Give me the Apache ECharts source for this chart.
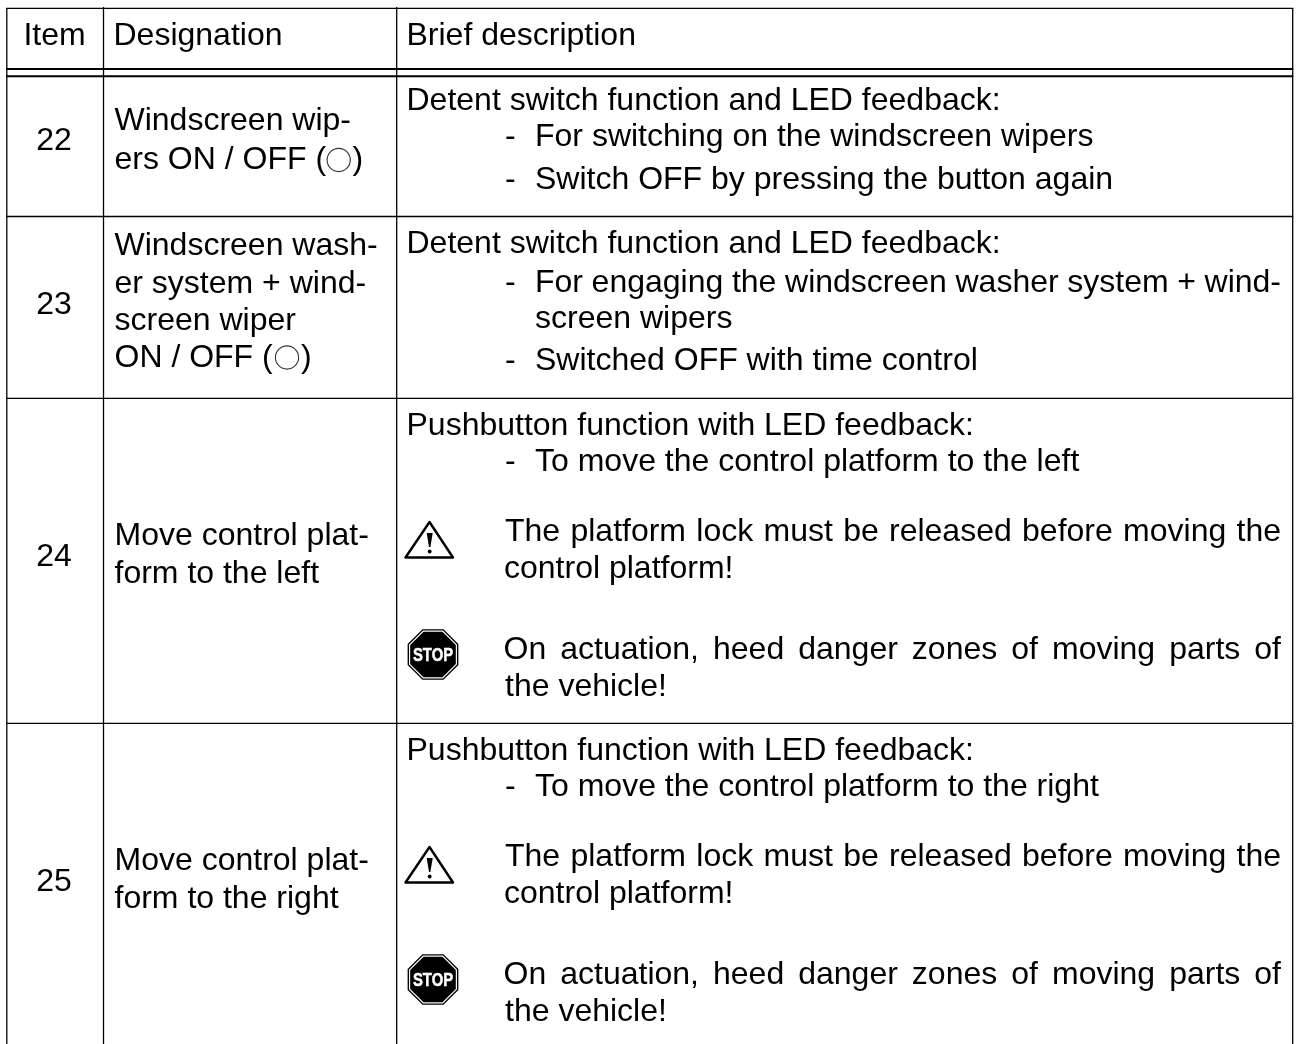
<!DOCTYPE html>
<html><head><meta charset="utf-8">
<style>html,body{margin:0;padding:0;background:#fff}#c{width:1296px;height:1044px}</style>
<script src="https://cdn.jsdelivr.net/npm/echarts@6/dist/echarts.min.js"></script>
</head><body><div id="c"></div>
<script>
const columnHeaders = ['Item', 'Designation', 'Brief description'];
const itemNumbers = ['22', '23', '24', '25'];
const designations = [
  ['Windscreen wip-', 'ers ON / OFF ('],
  ['Windscreen wash-', 'er system + wind-', 'screen wiper', 'ON / OFF ('],
  ['Move control plat-', 'form to the left'],
  ['Move control plat-', 'form to the right']
];
const descriptions22 = ['Detent switch function and LED feedback:', '- For switching on the windscreen wipers', '- Switch OFF by pressing the button again'];
const descriptions23 = ['Detent switch function and LED feedback:', '- For engaging the windscreen washer system + wind-', 'screen wipers', '- Switched OFF with time control'];
const descriptions24 = ['Pushbutton function with LED feedback:', '- To move the control platform to the left', 'The platform lock must be released before moving the', 'control platform!', 'On actuation, heed danger zones of moving parts of', 'the vehicle!'];
const descriptions25 = ['Pushbutton function with LED feedback:', '- To move the control platform to the right', 'The platform lock must be released before moving the', 'control platform!', 'On actuation, heed danger zones of moving parts of', 'the vehicle!'];

// layout only
const FONT = '"Liberation Sans", Arial, Helvetica, sans-serif';
const SIZE = 32;
const SHIFT = 24;
const vx = [6.8, 103.5, 396.7, 1292.7];
const els = [];
const mctx = document.createElement('canvas').getContext('2d');
mctx.font = SIZE + 'px ' + FONT;

function line(x1, y1, x2, y2, w) {
  els.push({type: 'line', silent: true, shape: {x1, y1, x2, y2}, style: {stroke: '#000', lineWidth: w || 1.3}});
}
function text(s, x, y, align) {
  els.push({type: 'text', silent: true, x, y: y - SHIFT, style: {text: s, x: 0, y: 0, font: SIZE + 'px ' + FONT, fill: '#000', textAlign: align || 'left'}});
}
function justified(s, x0, x1, y) {
  const words = s.split(' ');
  const total = words.reduce((a, w) => a + mctx.measureText(w).width, 0);
  const gap = (x1 - x0 - total) / (words.length - 1);
  let x = x0;
  words.forEach(w => { text(w, x, y); x += mctx.measureText(w).width + gap; });
}
function warn(dy) {
  els.push({type: 'polygon', silent: true, shape: {points: [[429.5, 522 + dy], [405.5, 557.5 + dy], [453, 557.5 + dy]]}, style: {stroke: '#000', fill: '#fff', lineWidth: 2.4, lineJoin: 'round'}});
  els.push({type: 'polygon', silent: true, shape: {points: [[426.7, 533 + dy], [432.7, 533 + dy], [430.4, 547 + dy], [429, 547 + dy]]}, style: {fill: '#000'}});
  els.push({type: 'circle', silent: true, shape: {cx: 429.7, cy: 551.5 + dy, r: 1.9}, style: {fill: '#000'}});
}
function octagon(cx, cy, r) {
  const pts = [];
  for (let i = 0; i < 8; i++) {
    const a = Math.PI / 8 + i * Math.PI / 4;
    pts.push([cx + r * Math.cos(a), cy + r * Math.sin(a)]);
  }
  return pts;
}
function stop(dy) {
  const cx = 433, cy = 654.5 + dy;
  els.push({type: 'polygon', silent: true, shape: {points: octagon(cx, cy, 26.7)}, style: {fill: '#fff', stroke: '#000', lineWidth: 1.4}});
  els.push({type: 'polygon', silent: true, shape: {points: octagon(cx, cy, 24.7)}, style: {fill: '#000'}});
  els.push({type: 'text', silent: true, x: cx, y: cy - 8.5, scaleX: 0.8, style: {text: 'STOP', x: 0, y: 0, font: 'bold 18.5px ' + FONT, fill: '#fff', stroke: '#fff', lineWidth: 0.5, textAlign: 'center'}});
}
function ring(cx, cy) {
  els.push({type: 'circle', silent: true, shape: {cx, cy, r: 11.6}, style: {fill: 'none', stroke: '#333', lineWidth: 1.1}});
}

// rules
const rowRules = [216.5, 398.4, 723.4];
[8.4, ...rowRules].forEach(y => line(vx[0] - 0.6, y, vx[3] + 0.6, y));
[69, 76.3].forEach(y => line(vx[0] - 0.6, y, vx[3] + 0.6, y, 2));
line(vx[0], 8, vx[0], 1044);
line(vx[1], 7, vx[1], 1044);
line(vx[2], 7, vx[2], 1044);
line(vx[3], 8, vx[3], 1044);

// header
text(columnHeaders[0], 54.5, 43.7, 'center');
text(columnHeaders[1], 113.5, 43.7);
text(columnHeaders[2], 406.5, 43.7);

// item numbers
const itemY = [148.7, 312.7, 565.4, 890.4];
itemNumbers.forEach((n, i) => text(n, 54, itemY[i], 'center'));

// designations
const desigY = [[128.7, 167.7], [253.7, 291.7, 328.7, 365.7], [543.7, 582], [868.7, 907]];
designations.forEach((lines, i) => lines.forEach((s, j) => text(s, 114.5, desigY[i][j])));
text(')', 352.5, 167.7); ring(338.7, 160);
text(')', 301, 365.7); ring(287, 357.5);

// descriptions
const dx0 = 406.5, dx1 = 535, dx2 = 505, right = 1281;
function bullet(s, y) { text('-', 505, y); text(s.slice(2), dx1, y); }

text(descriptions22[0], dx0, 109);
bullet(descriptions22[1], 145.5);
bullet(descriptions22[2], 188);

text(descriptions23[0], dx0, 252.5);
text('-', 505, 291);
justified(descriptions23[1].slice(2), dx1, 1281, 291);
text(descriptions23[2], dx1, 327.5);
bullet(descriptions23[3], 369.5);

[[descriptions24, 0], [descriptions25, 325]].forEach(([d, dy]) => {
  text(d[0], dx0, 433.7 + dy);
  bullet(d[1], 470.4 + dy);
  justified(d[2], dx2, right, 540.4 + dy);
  text(d[3], 504, 576.7 + dy);
  justified(d[4], 503.5, right, 658 + dy);
  text(d[5], dx2, 694.7 + dy);
  warn(dy);
  stop(dy);
});

const chart = echarts.init(document.getElementById('c'), null, {renderer: 'canvas', width: 1296, height: 1044});
chart.setOption({backgroundColor: '#fff', animation: false, graphic: {elements: els}});
</script></body></html>
